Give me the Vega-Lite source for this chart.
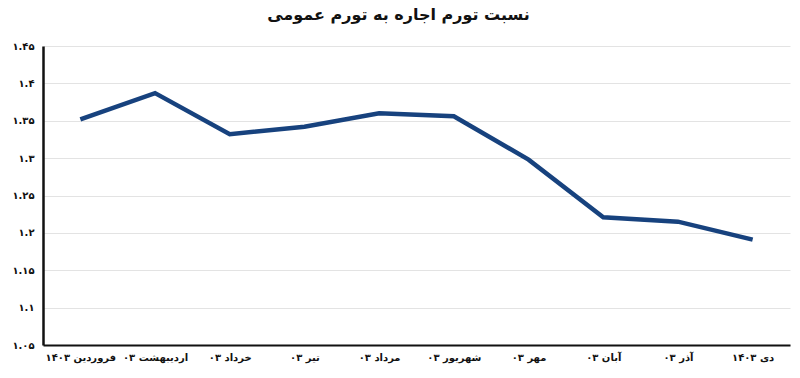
{
  "$schema": "https://vega.github.io/schema/vega-lite/v6.json",
  "width": 747,
  "height": 299,
  "autosize": "none",
  "padding": {"left": 43, "top": 46, "right": 10, "bottom": 33},
  "background": "white",
  "title": {
    "text": "نسبت تورم اجاره به تورم عمومی",
    "font": "DejaVu Sans",
    "fontSize": 16,
    "fontWeight": "bold",
    "color": "#111111",
    "anchor": "middle",
    "frame": "group",
    "offset": 18,
    "dx": -18
  },
  "data": {
    "values": [
      {"month": "فروردین ۱۴۰۳", "ratio": 1.352},
      {"month": "اردیبهشت ۰۳", "ratio": 1.387},
      {"month": "خرداد ۰۳", "ratio": 1.332},
      {"month": "تیر ۰۳", "ratio": 1.342},
      {"month": "مرداد ۰۳", "ratio": 1.360},
      {"month": "شهریور ۰۳", "ratio": 1.356},
      {"month": "مهر ۰۳", "ratio": 1.298},
      {"month": "آبان ۰۳", "ratio": 1.221},
      {"month": "آذر ۰۳", "ratio": 1.215},
      {"month": "دی ۱۴۰۳", "ratio": 1.191}
    ]
  },
  "config": {
    "view": {"stroke": null},
    "axis": {"labelFont": "DejaVu Sans", "labelFontWeight": "bold", "labelColor": "#111111"}
  },
  "mark": {"type": "line", "color": "#17427e", "strokeWidth": 4.5, "strokeJoin": "miter"},
  "encoding": {
    "x": {
      "field": "month",
      "type": "nominal",
      "sort": null,
      "scale": {"type": "point", "padding": 0.5},
      "axis": {
        "title": null,
        "labelAngle": 0,
        "labelFontSize": 10,
        "labelPadding": 7,
        "ticks": false,
        "domainColor": "#111111",
        "domainWidth": 2,
        "grid": false
      }
    },
    "y": {
      "field": "ratio",
      "type": "quantitative",
      "scale": {"domain": [1.05, 1.45], "nice": false, "zero": false},
      "axis": {
        "title": null,
        "values": [1.05, 1.1, 1.15, 1.2, 1.25, 1.3, 1.35, 1.4, 1.45],
        "labelExpr": "replace(replace(replace(replace(replace(replace(toString(datum.value), /0/g, '۰'), /1/g, '۱'), /2/g, '۲'), /3/g, '۳'), /4/g, '۴'), /5/g, '۵')",
        "labelFontSize": 10,
        "labelPadding": 9,
        "ticks": false,
        "domainColor": "#111111",
        "domainWidth": 2.5,
        "grid": true,
        "gridColor": "#e3e3e3",
        "gridWidth": 1
      }
    }
  }
}
